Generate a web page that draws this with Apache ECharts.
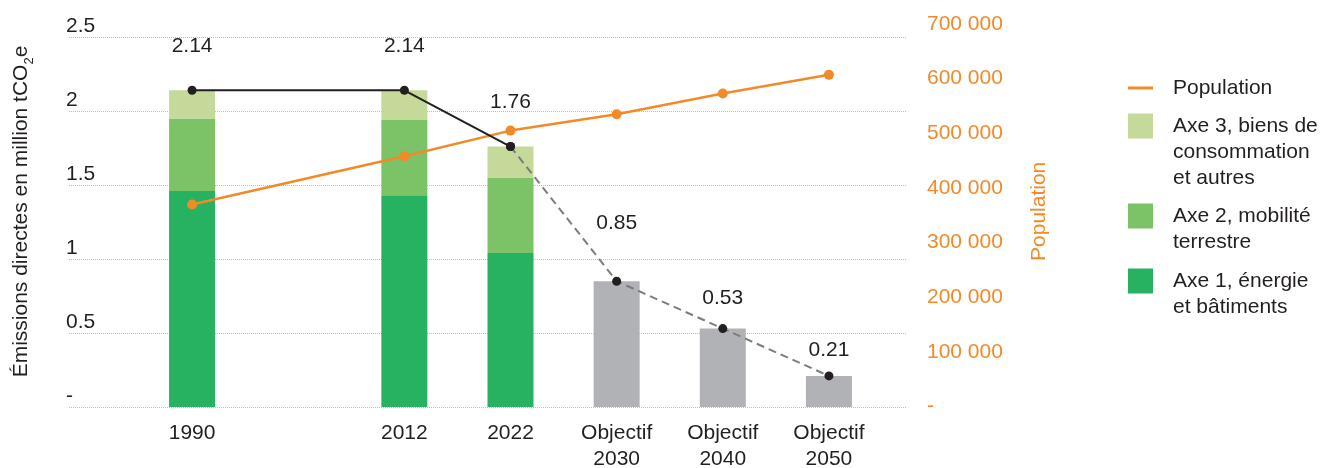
<!DOCTYPE html>
<html>
<head>
<meta charset="utf-8">
<title>Émissions directes et population</title>
<script src="https://cdn.jsdelivr.net/npm/echarts@6/dist/echarts.min.js"></script>
<style>
  html, body { margin: 0; padding: 0; background: #ffffff; }
  #chart { width: 1322px; height: 468px; }
</style>
</head>
<body>
<div id="chart"></div>
<script>
// Categories (an empty slot keeps the gap between 1990 and 2012)
const categories = ['1990', '', '2012', '2022', 'Objectif\n2030', 'Objectif\n2040', 'Objectif\n2050'];

// Direct emissions by axis, million tCO2e
const axe1 = [1.46, null, 1.43, 1.04, null, null, null];
const axe2 = [0.49, null, 0.51, 0.51, null, null, null];
const axe3 = [0.19, null, 0.20, 0.21, null, null, null];
// Targets, million tCO2e
const objectifs = [null, null, null, null, 0.85, 0.53, 0.21];
// Population
const population = [370000, null, 458000, 505000, 535000, 573000, 607000];

// Tick labels
const leftTickLabels = ['-', '0.5', '1', '1.5', '2', '2.5'];
const rightTickLabels = ['-', '100 000', '200 000', '300 000', '400 000', '500 000', '600 000', '700 000'];

const seriesNames = {
  pop: 'Population',
  a3: 'Axe 3, biens de\nconsommation\net autres',
  a2: 'Axe 2, mobilité\nterrestre',
  a1: 'Axe 1, énergie\net bâtiments'
};

const COLORS = {
  a1: '#26B261',
  a2: '#7BC366',
  a3: '#C5D99A',
  target: '#B1B2B5',
  orange: '#F28A2A',
  text: '#231F20',
  grid: '#BDBDBD',
  dash: '#7D7D7D'
};
const FONT = '"Liberation Sans", Arial, Helvetica, sans-serif';
const FS = 21;

// Totals of the measured years, and the emission path
const totals = categories.map((_, i) =>
  axe1[i] == null ? null : Math.round((axe1[i] + axe2[i] + axe3[i]) * 100) / 100);
const lastMeasured = 3;
const measuredPath = totals.map((v, i) => (i <= lastMeasured ? v : null));
const targetPath = objectifs.map((v, i) => (i === lastMeasured ? totals[i] : v));

// Vertical distance of each value label above its point
const labelLift = [29, 0, 29, 29, 42.5, 15, 11];

function pointLabel(i, show) {
  return {
    show: show,
    position: 'top',
    distance: labelLift[i],
    color: COLORS.text,
    fontSize: FS,
    fontFamily: FONT,
    formatter: p => Number(p.value).toFixed(2)
  };
}

const measuredData = measuredPath.map((v, i) =>
  v == null ? null : { value: v, label: pointLabel(i, true) });
const targetData = targetPath.map((v, i) =>
  v == null ? null : { value: v, label: pointLabel(i, i > lastMeasured) });

const chart = echarts.init(document.getElementById('chart'), null, { renderer: 'canvas' });

// Extents of the bar area, the population area and the dotted reference lines
const plotTop = 37, plotBottom = 61;
const popTop = 24, popBottom = 61.3;
const barLeft = 139, barRight = 440;

// One legend block per entry so that the icon sits beside the first text line
function legendBlock(name, top, lines, isLine) {
  const lead = '\n'.repeat(lines - 1);
  return {
    data: [name],
    orient: 'vertical',
    left: 1128,
    top: top,
    padding: 0,
    selectedMode: false,
    icon: 'rect',
    itemWidth: 25,
    itemHeight: isLine ? 3 : 25,
    formatter: n => lead + n,
    textStyle: {
      color: COLORS.text,
      fontSize: FS,
      fontFamily: FONT,
      lineHeight: 26,
      padding: [0, 0, 0, 15]
    }
  };
}

const option = {
  animation: false,
  backgroundColor: '#ffffff',
  textStyle: { fontFamily: FONT },
  grid: [
    { left: barLeft, right: barRight, top: plotTop, bottom: plotBottom, outerBoundsMode: 'none' },
    { left: barLeft, right: barRight, top: popTop, bottom: popBottom, outerBoundsMode: 'none' },
    { left: 69, right: 416, top: plotTop, bottom: plotBottom, outerBoundsMode: 'none' }
  ],
  legend: [
    legendBlock(seriesNames.pop, 75, 1, true),
    legendBlock(seriesNames.a3, 61, 3, false),
    legendBlock(seriesNames.a2, 177, 2, false),
    legendBlock(seriesNames.a1, 242, 2, false)
  ],
  xAxis: [
    {
      type: 'category', gridIndex: 0, data: categories,
      axisLine: { show: false }, axisTick: { show: false },
      axisLabel: {
        interval: 0, margin: 13, color: COLORS.text,
        fontSize: FS, fontFamily: FONT, lineHeight: 26
      },
      splitLine: { show: false }
    },
    { type: 'category', gridIndex: 1, data: categories, show: false },
    { type: 'value', gridIndex: 2, min: 0, max: 1, show: false }
  ],
  yAxis: [
    { type: 'value', gridIndex: 0, min: 0, max: 2.5, show: false },
    {
      type: 'value', gridIndex: 1, position: 'right',
      min: 0, max: 700000, interval: 100000,
      axisLine: { show: false }, axisTick: { show: false },
      splitLine: { show: false },
      axisLabel: {
        margin: 45, align: 'left', color: COLORS.orange,
        fontSize: FS, fontFamily: FONT,
        formatter: v => rightTickLabels[Math.round(v / 100000)]
      },
      name: 'Population',
      nameLocation: 'middle',
      nameGap: 147,
      nameTextStyle: {
        color: COLORS.orange, fontSize: FS, fontFamily: FONT,
        padding: [0, 0, 0, 8]
      }
    },
    {
      type: 'value', gridIndex: 2, position: 'left',
      min: 0, max: 2.5, interval: 0.5,
      axisLine: { show: false }, axisTick: { show: false },
      splitLine: { show: true, lineStyle: { color: COLORS.grid, width: 1, type: [1, 1] } },
      axisLabel: {
        margin: 3, align: 'left', verticalAlign: 'bottom',
        color: COLORS.text, fontSize: FS, fontFamily: FONT,
        formatter: v => leftTickLabels[Math.round(v / 0.5)]
      },
      name: 'Émissions directes en million tCO{sub|2}e',
      nameLocation: 'middle',
      nameGap: 37,
      nameTextStyle: {
        color: COLORS.text, fontSize: FS, fontFamily: FONT,
        padding: [0, 0, 0, 21],
        rich: {
          sub: { fontSize: 13, fontFamily: FONT, color: COLORS.text, verticalAlign: 'bottom', padding: [0, 0, -4, 0] }
        }
      }
    }
  ],
  series: [
    {
      name: seriesNames.a1, type: 'bar', stack: 'e', xAxisIndex: 0, yAxisIndex: 0,
      barWidth: 46, data: axe1, itemStyle: { color: COLORS.a1 }
    },
    {
      name: seriesNames.a2, type: 'bar', stack: 'e', xAxisIndex: 0, yAxisIndex: 0,
      barWidth: 46, data: axe2, itemStyle: { color: COLORS.a2 }
    },
    {
      name: seriesNames.a3, type: 'bar', stack: 'e', xAxisIndex: 0, yAxisIndex: 0,
      barWidth: 46, data: axe3, itemStyle: { color: COLORS.a3 }
    },
    {
      name: 'Objectif', type: 'bar', stack: 'e', xAxisIndex: 0, yAxisIndex: 0,
      barWidth: 46, data: objectifs, itemStyle: { color: COLORS.target }
    },
    {
      name: seriesNames.pop, type: 'line', xAxisIndex: 1, yAxisIndex: 1,
      data: population, connectNulls: true,
      symbol: 'circle', symbolSize: 10,
      lineStyle: { color: COLORS.orange, width: 2.5 },
      itemStyle: { color: COLORS.orange }
    },
    {
      name: 'Trajectoire objectifs', type: 'line', xAxisIndex: 0, yAxisIndex: 0,
      data: targetData, connectNulls: false,
      symbol: 'circle', symbolSize: 9,
      lineStyle: { color: COLORS.dash, width: 2, type: [8, 5] },
      itemStyle: { color: COLORS.text }
    },
    {
      name: 'Émissions', type: 'line', xAxisIndex: 0, yAxisIndex: 0,
      data: measuredData, connectNulls: true,
      symbol: 'circle', symbolSize: 9,
      lineStyle: { color: COLORS.text, width: 2 },
      itemStyle: { color: COLORS.text }
    }
  ]
};

chart.setOption(option);
</script>
</body>
</html>
